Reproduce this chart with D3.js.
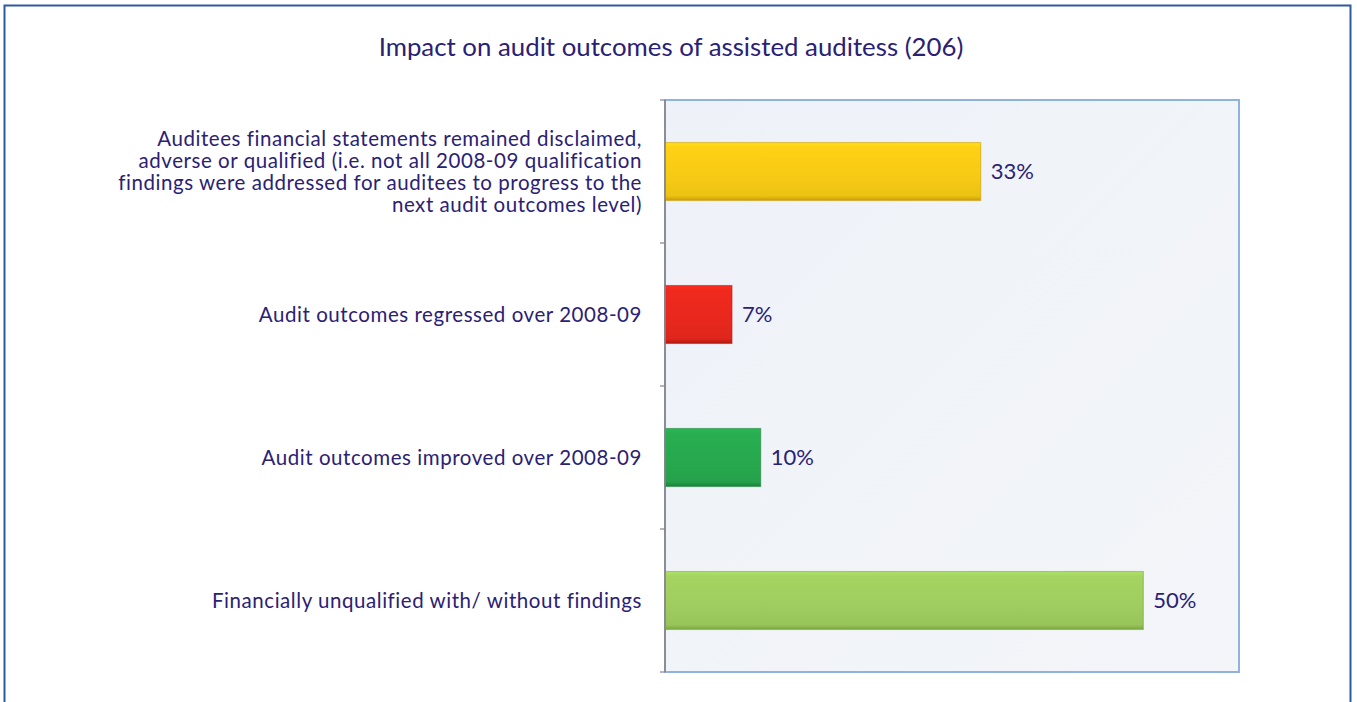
<!DOCTYPE html>
<html>
<head>
<meta charset="utf-8">
<script src="https://cdn.jsdelivr.net/npm/d3@7"></script>
<style>
  html, body { margin: 0; padding: 0; background: #ffffff; }
  svg { display: block; }
  text { font-family: "Lato", "Noto Sans", sans-serif; fill: #2b2174; }
</style>
</head>
<body>
<svg id="chart" width="1357" height="702"></svg>
<script>
// Outcome categories (top to bottom), their shares in percent and bar colours
const categories = [
  ["Auditees financial statements remained disclaimed,",
   "adverse or qualified (i.e. not all 2008-09 qualification",
   "findings were addressed for auditees to progress to the",
   "next audit outcomes level)"],
  ["Audit outcomes regressed over 2008-09"],
  ["Audit outcomes improved over 2008-09"],
  ["Financially unqualified with/ without findings"]
];
const values = [33, 7, 10, 50];
const valueLabels = ["33%", "7%", "10%", "50%"];
const barColors = ["#f6ca14", "#e8281d", "#27a84e", "#9fcd5f"];
const edgeColors = ["#c99d05", "#b11a12", "#1b8139", "#78a83d"];
const titleText = "Impact on audit outcomes of assisted auditess (206)";

const svg = d3.select("#chart");

// outer frame
svg.append("rect")
  .attr("x", 4.5).attr("y", 5.5)
  .attr("width", 1346).attr("height", 720)
  .attr("fill", "#ffffff")
  .attr("stroke", "#2e5b9c").attr("stroke-width", 2);

// title
svg.append("text")
  .attr("x", 671).attr("y", 56)
  .attr("text-anchor", "middle")
  .style("font-size", "25.8px")
  .text(titleText);

const plot = { left: 665, right: 1239, top: 100, bottom: 672 };

const x = d3.scaleLinear().domain([0, 60]).range([plot.left, plot.right]);
const y = d3.scaleBand()
  .domain(d3.range(categories.length))
  .range([plot.top, plot.bottom])
  .paddingInner(0.595).paddingOuter(0.2975);

const defs = svg.append("defs");

// plot background
const bg = defs.append("linearGradient").attr("id", "plotbg")
  .attr("x1", 0).attr("y1", 0).attr("x2", 1).attr("y2", 1);
bg.append("stop").attr("offset", "0%").attr("stop-color", "#eef2f8");
bg.append("stop").attr("offset", "100%").attr("stop-color", "#f3f5f9");

svg.append("rect")
  .attr("x", plot.left).attr("y", plot.top)
  .attr("width", plot.right - plot.left).attr("height", plot.bottom - plot.top)
  .attr("fill", "url(#plotbg)")
  .attr("stroke", "#8fb2de").attr("stroke-width", 2);

// per-bar shading for a slightly raised look
barColors.forEach((c, i) => {
  const g = defs.append("linearGradient").attr("id", "bar" + i)
    .attr("x1", 0).attr("y1", 0).attr("x2", 0).attr("y2", 1);
  g.append("stop").attr("offset", "0%").attr("stop-color", d3.color(c).brighter(0.3));
  g.append("stop").attr("offset", "8%").attr("stop-color", d3.color(c).brighter(0.1));
  g.append("stop").attr("offset", "60%").attr("stop-color", c);
  g.append("stop").attr("offset", "92%").attr("stop-color", d3.color(c).darker(0.12));
  g.append("stop").attr("offset", "100%").attr("stop-color", edgeColors[i]);
});

// bars
svg.append("g").selectAll("rect")
  .data(values)
  .join("rect")
  .attr("x", x(0))
  .attr("y", (d, i) => y(i))
  .attr("width", d => x(d) - x(0))
  .attr("height", y.bandwidth())
  .attr("fill", (d, i) => `url(#bar${i})`)
  .attr("stroke", (d, i) => edgeColors[i])
  .attr("stroke-opacity", 0.55)
  .attr("stroke-width", 1.2);

// value labels
svg.append("g").selectAll("text")
  .data(values)
  .join("text")
  .attr("x", d => x(d) + 10)
  .attr("y", (d, i) => y(i) + y.bandwidth() / 2)
  .attr("dy", "0.36em")
  .style("font-size", "22px")
  .text((d, i) => valueLabels[i]);

// vertical axis with ticks at category boundaries
const bandEdges = d3.range(categories.length + 1).map(i => i === categories.length
  ? plot.bottom : y(i) - y.step() * y.paddingInner() / 2);
const axisG = svg.append("g");
axisG.append("line")
  .attr("x1", plot.left).attr("x2", plot.left)
  .attr("y1", plot.top).attr("y2", plot.bottom)
  .attr("stroke", "#8a8484").attr("stroke-width", 1.6);
axisG.selectAll("line.tick")
  .data(bandEdges)
  .join("line")
  .attr("class", "tick")
  .attr("x1", plot.left - 5).attr("x2", plot.left)
  .attr("y1", d => d).attr("y2", d => d)
  .attr("stroke", "#8a8484").attr("stroke-width", 1.2);

// category labels, right aligned beside the axis
const lineH = 21.8;
const labelG = svg.append("g");
categories.forEach((lines, i) => {
  const cy = y(i) + y.bandwidth() / 2;
  const t = labelG.append("text")
    .attr("text-anchor", "end")
    .style("font-size", "20.5px")
    .style("letter-spacing", "0.55px");
  lines.forEach((ln, k) => {
    t.append("tspan")
      .attr("x", 642)
      .attr("y", cy + (k - (lines.length - 1) / 2) * lineH)
      .attr("dy", "0.36em")
      .text(ln);
  });
});
</script>
</body>
</html>
